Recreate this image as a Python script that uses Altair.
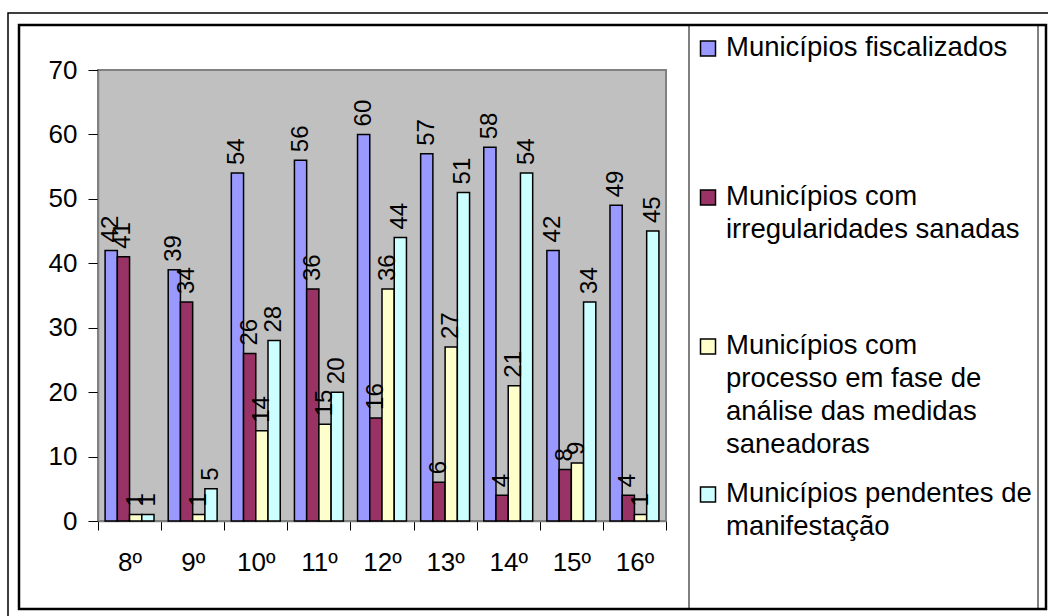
import altair as alt
import pandas as pd

# ---- data -------------------------------------------------------------
categories = ["8º", "9º", "10º", "11º", "12º", "13º", "14º", "15º", "16º"]

series = [
    "Municípios fiscalizados",
    "Municípios com irregularidades sanadas",
    "Municípios com processo em fase de análise das medidas saneadoras",
    "Municípios pendentes de manifestação",
]

fiscalizados = [42, 39, 54, 56, 60, 57, 58, 42, 49]
irregularidades_sanadas = [41, 34, 26, 36, 16, 6, 4, 8, 4]
em_analise = [1, 1, 14, 15, 36, 27, 21, 9, 1]
pendentes = [1, 5, 28, 20, 44, 51, 54, 34, 45]

legend_lines = [
    ["Municípios fiscalizados"],
    ["Municípios com", "irregularidades sanadas"],
    ["Municípios com", "processo em fase de", "análise das medidas", "saneadoras"],
    ["Municípios pendentes de", "manifestação"],
]

# ---- styling / layout -------------------------------------------------
colors = ["#9999FF", "#993366", "#FFFFCC", "#CCFFFF"]
FONT = "Liberation Sans"

CANVAS_W, CANVAS_H = 1048, 616
LEFT, TOP = 98, 70          # top-left corner of the plot area
W, H = 568, 451             # plot area size

# legend placement (canvas pixels): symbol centre x, text x, first baselines
LEG_SYM_X = 708
LEG_TEXT_X = 726
LEG_FONT = 27.5
LEG_LINE_H = 33
LEG_BASELINES = [56, 205, 354, 502]

rows = []
for values, name in zip(
    [fiscalizados, irregularidades_sanadas, em_analise, pendentes], series
):
    for cat, v in zip(categories, values):
        rows.append({"periodo": cat, "serie": name, "valor": v})
df = pd.DataFrame(rows)

x_enc = alt.X(
    "periodo:N",
    sort=categories,
    scale=alt.Scale(paddingInner=0, paddingOuter=0),
    axis=alt.Axis(
        title=None,
        labelAngle=0,
        labelFont=FONT,
        labelFontSize=26,
        labelColor="black",
        labelPadding=19,
        tickBand="extent",
        tickSize=9,
        tickColor="black",
        tickWidth=1,
        domainColor="#808080",
        domainWidth=1.5,
    ),
)
xoff_enc = alt.XOffset(
    "serie:N", sort=series, scale=alt.Scale(paddingInner=0, paddingOuter=0.58)
)
y_enc = alt.Y(
    "valor:Q",
    scale=alt.Scale(domain=[0, 70], nice=False),
    axis=alt.Axis(
        title=None,
        values=list(range(0, 71, 10)),
        grid=False,
        labelFont=FONT,
        labelFontSize=26,
        labelColor="black",
        labelPadding=11,
        tickSize=10,
        tickColor="black",
        tickWidth=1,
        domainColor="#808080",
        domainWidth=1.5,
    ),
)

base = alt.Chart(df)

bars = base.mark_bar(stroke="black", strokeWidth=1.5).encode(
    x=x_enc,
    xOffset=xoff_enc,
    y=y_enc,
    color=alt.Color(
        "serie:N",
        sort=series,
        scale=alt.Scale(domain=series, range=colors),
        legend=None,
    ),
)

value_labels = base.mark_text(
    angle=270,
    align="left",
    baseline="middle",
    dx=8,
    font=FONT,
    fontSize=24,
    color="black",
).encode(x=x_enc, xOffset=xoff_enc, y=y_enc, text="valor:Q")


def frame(x1, y1, x2, y2, width):
    """Outline rectangle given in canvas pixels."""
    return (
        alt.Chart(alt.Data(values=[{}]))
        .mark_rect(fillOpacity=0, stroke="black", strokeWidth=width)
        .encode(
            x=alt.value(x1 - LEFT),
            x2=alt.value(x2 - LEFT),
            y=alt.value(y1 - TOP),
            y2=alt.value(y2 - TOP),
        )
    )


frames = [
    frame(8, 13, 1070, 640, 1.5),    # outer border
    frame(19, 25, 1046, 609, 2.5),   # chart area border
    frame(689, 25, 1038, 609, 1),    # legend box
]

legend_layers = []
for i, name in enumerate(series):
    b = LEG_BASELINES[i]
    legend_layers.append(
        alt.Chart(alt.Data(values=[{"serie": name}]))
        .mark_rect(stroke="black", strokeWidth=1.5)
        .encode(
            x=alt.value(LEG_SYM_X - 7.5 - LEFT),
            x2=alt.value(LEG_SYM_X + 7.5 - LEFT),
            y=alt.value(b - 15 - TOP),
            y2=alt.value(b - TOP),
            fill=alt.value(colors[i]),
        )
    )
    legend_layers.append(
        alt.Chart(alt.Data(values=[{"serie": name}]))
        .mark_text(
            align="left",
            baseline="alphabetic",
            font=FONT,
            fontSize=LEG_FONT,
            lineHeight=LEG_LINE_H,
            color="black",
        )
        .encode(
            x=alt.value(LEG_TEXT_X - LEFT),
            y=alt.value(b - TOP),
            text=alt.value(legend_lines[i]),
        )
    )

chart = (
    alt.layer(*frames, bars, value_labels, *legend_layers)
    .properties(
        width=W,
        height=H,
        autosize=alt.AutoSizeParams(type="none"),
        padding={
            "left": LEFT,
            "top": TOP,
            "right": CANVAS_W - LEFT - W,
            "bottom": CANVAS_H - TOP - H,
        },
        background="white",
    )
    .configure_view(fill="#C0C0C0", stroke="#808080", strokeWidth=2)
)

chart.save("out.html", embed_options={"renderer": "svg", "actions": False})
